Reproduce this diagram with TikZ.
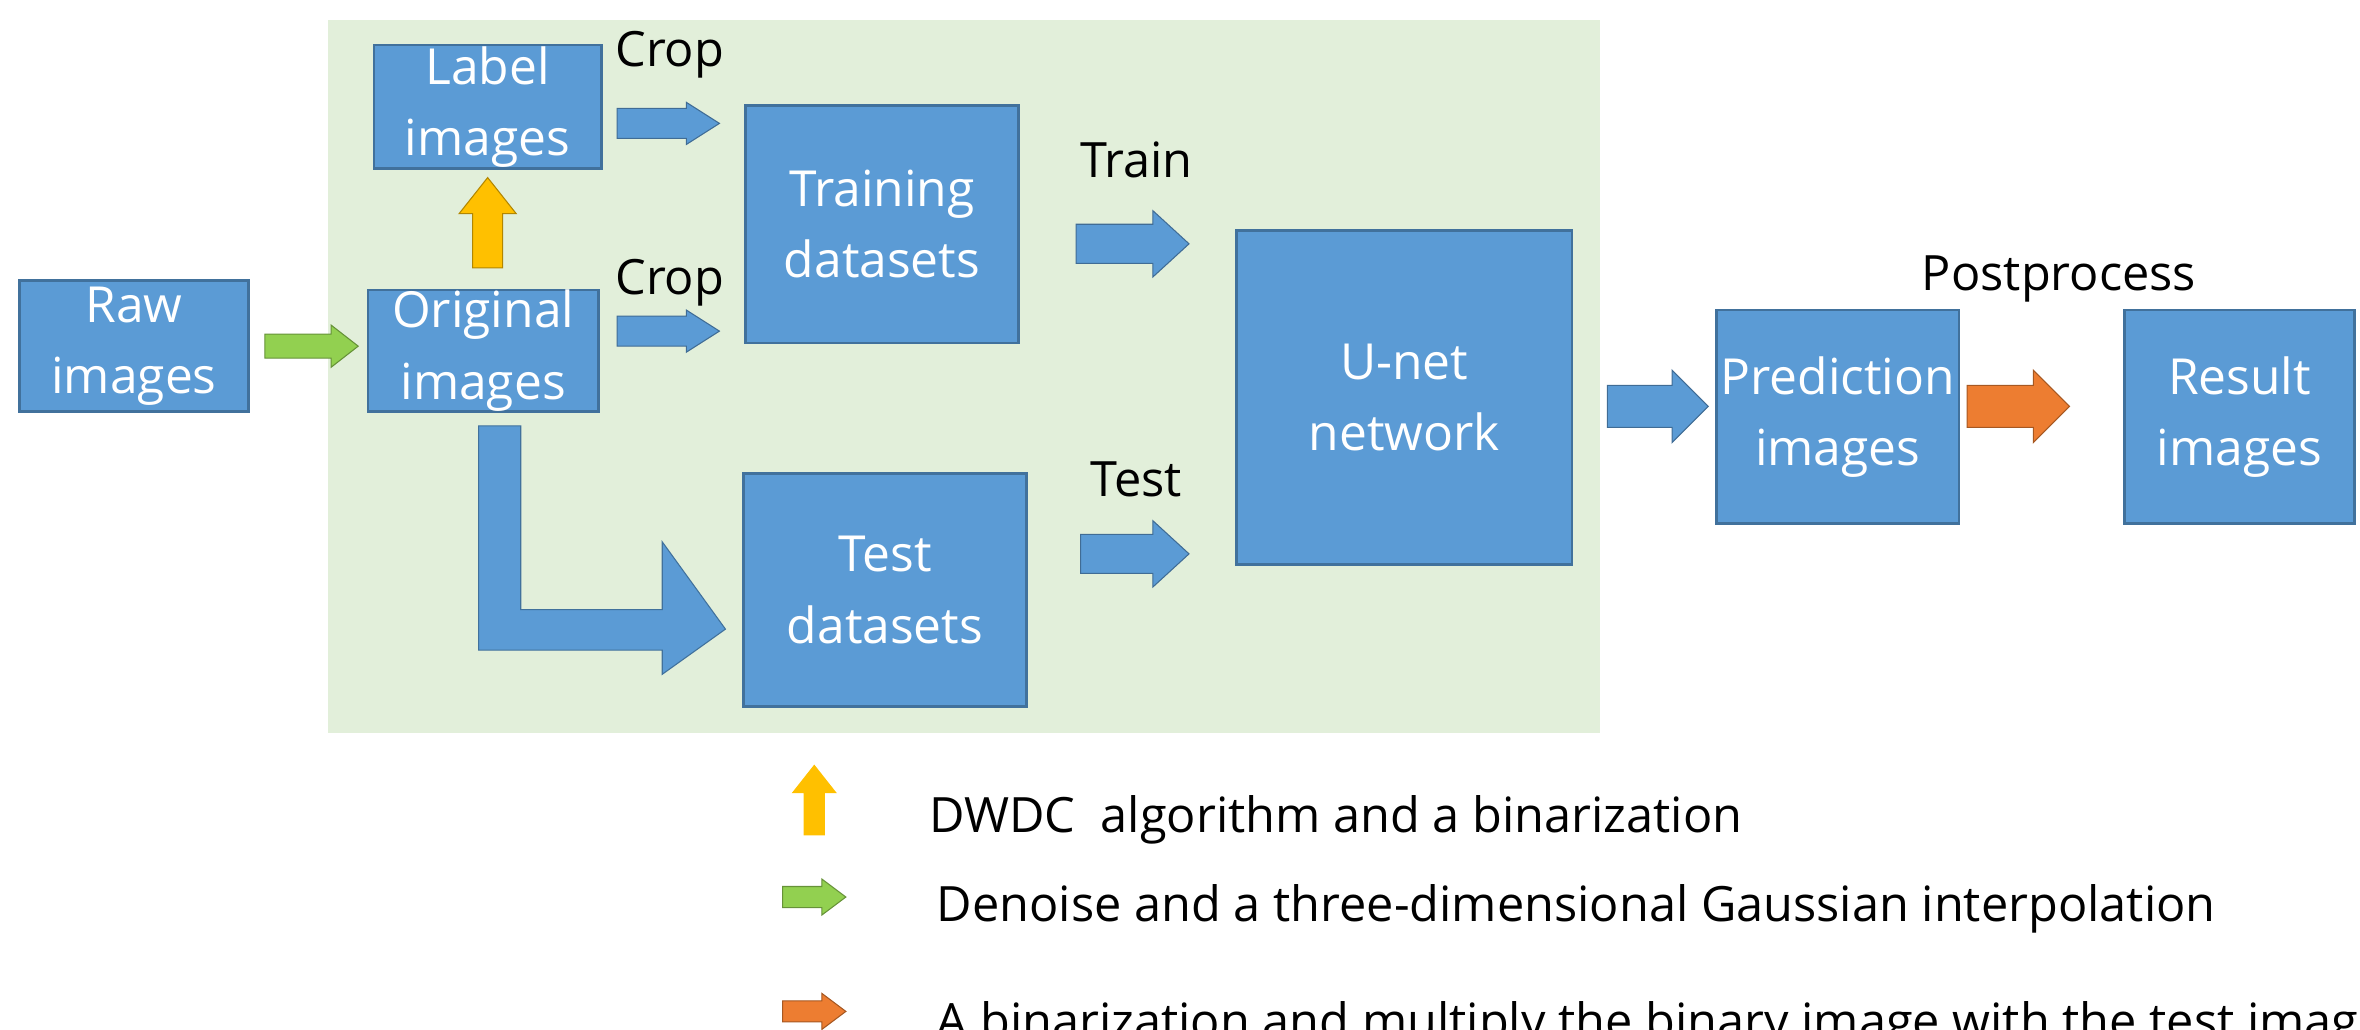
\documentclass[tikz,border=0pt]{standalone}
\usepackage{fontspec}
\setmainfont{Open Sans}
\begin{document}
\begin{tikzpicture}[x=0.1mm,y=-0.1mm,
 box/.style={draw=boxb,fill=boxf,line width=0.5pt,text=white,align=center,font=\fontsize{9.4}{13.5}\selectfont,inner sep=0pt},
 lbl/.style={font=\fontsize{9.2}{11}\selectfont,anchor=base},
 leg/.style={font=\fontsize{9.2}{11}\selectfont,anchor=base west}]
\definecolor{boxf}{HTML}{5B9BD5}\definecolor{boxb}{HTML}{41719C}
\definecolor{bg}{HTML}{E2EFDA}\definecolor{ag}{HTML}{92D050}
\definecolor{ay}{HTML}{FFC000}\definecolor{ao}{HTML}{ED7D31}
\newcommand\rarr[7]{\fill[#7,draw=#7!70!black,line width=0.2pt] (#1,#3-#4)--(#2-#6,#3-#4)--(#2-#6,#3-#5)--(#2,#3)--(#2-#6,#3+#5)--(#2-#6,#3+#4)--(#1,#3+#4)--cycle;}
\useasboundingbox (0,0) rectangle (1568,684);
\fill[bg] (218,13) rectangle (1063,487);
\node[box,minimum width=15.2mm,minimum height=8.7mm] (raw) at (89,230) {Raw\\images};
\node[box,minimum width=15.3mm,minimum height=8mm] (orig) at (321,233) {Original\\images};
\node[box,minimum width=15.1mm,minimum height=8.2mm] (lab) at (324,71) {Label\\images};
\node[box,minimum width=18.1mm,minimum height=15.8mm] (train) at (586,149) {Training\\datasets};
\node[box,minimum width=18.8mm,minimum height=15.5mm] (test) at (588,392) {Test\\datasets};
\node[box,minimum width=22.3mm,minimum height=22.2mm] (unet) at (933,264) {U-net\\network};
\node[box,minimum width=16.1mm,minimum height=14.2mm] (pred) at (1221,277) {Prediction\\images};
\node[box,minimum width=15.3mm,minimum height=14.2mm] (res) at (1488,277) {Result\\images};
% arrows
\rarr{176}{238}{230}{8}{14}{18}{ag}
\fill[ay,draw=ay!70!black,line width=0.2pt] (314,178)--(314,142)--(305,142)--(324,118)--(343,142)--(334,142)--(334,178)--cycle;
\rarr{410}{478}{82}{10}{14}{22}{boxf}
\rarr{410}{478}{220}{10}{14}{22}{boxf}
\fill[boxf,draw=boxb,line width=0.2pt] (318,283)--(346,283)--(346,405)--(440,405)--(440,360)--(482,418)--(440,448)--(440,432)--(318,432)--cycle;
\rarr{715}{790}{162}{13}{22}{24}{boxf}
\rarr{718}{790}{368}{13}{22}{24}{boxf}
\rarr{1068}{1135}{270}{14}{24}{24}{boxf}
\rarr{1307}{1375}{270}{14}{24}{24}{ao}
\node[lbl] (c1) at (445,44) {Crop};
\node[lbl] (c2) at (445,196) {Crop};
\node[lbl] (tr) at (755,118) {Train};
\node[lbl] (te) at (755,330) {Test};
\node[lbl] (pp) at (1368,193) {Postprocess};
% legend
\fill[ay] (534,555)--(534,527)--(526,527)--(541,508)--(556,527)--(548,527)--(548,555)--cycle;
\rarr{520}{562}{596}{7}{12}{16}{ag}
\rarr{520}{562}{672}{7}{12}{16}{ao}
\node[leg] (l1) at (605,553) {DWDC\ \ algorithm and a binarization};
\node[leg] (l2) at (610,612) {Denoise and a three-dimensional Gaussian interpolation};
\node[leg] (l3) at (610,690) {A binarization and multiply the binary image with the test image};
\end{tikzpicture}
\end{document}
